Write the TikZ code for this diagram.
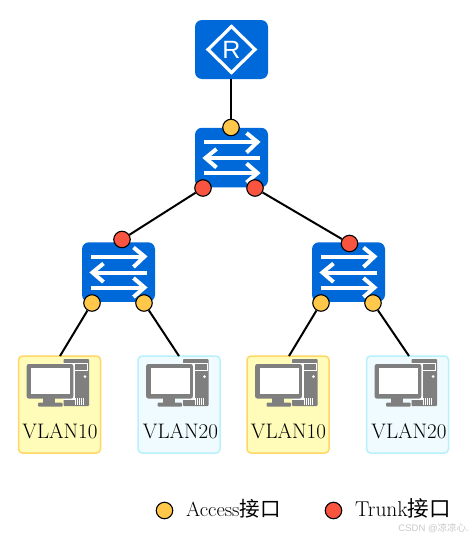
\documentclass[tikz,border=0pt]{standalone}
\usepackage{fontspec}
\newfontfamily\cjk{Noto Sans CJK SC}
\newfontfamily\arialish{Liberation Sans}
\definecolor{devblue}{HTML}{0069D9}
\definecolor{portyellow}{HTML}{FFC84A}
\definecolor{portred}{HTML}{F95440}
\definecolor{pcyf}{HTML}{FFFBB8}
\definecolor{pcyd}{HTML}{FFD766}
\definecolor{pcbf}{HTML}{EFFBFE}
\definecolor{pcbd}{HTML}{B8F0FB}
\definecolor{pcgray}{HTML}{7F7F7F}
\tikzset{
  x=1pt,y=-1pt,
  device/.style={fill=devblue,draw=none,rounded corners=7pt,minimum width=73pt,minimum height=59.5pt,inner sep=0pt},
  hostbox/.style={rounded corners=4pt,line width=1.5pt,minimum width=82pt,minimum height=97pt,inner sep=0pt},
  hosty/.style={hostbox,fill=pcyf,draw=pcyd},
  hostb/.style={hostbox,fill=pcbf,draw=pcbd},
  port/.style={circle,draw=black,line width=1.1pt,minimum size=16.5pt,inner sep=0pt},
  py/.style={port,fill=portyellow},
  pr/.style={port,fill=portred},
  link/.style={draw=black,line width=2pt},
  vlan/.style={font=\fontsize{21}{21}\selectfont,text=black,inner sep=0pt,anchor=base},
  legendtext/.style={font=\fontsize{20.5}{20.5}\selectfont,text=black,inner sep=0pt,anchor=base west},
  swicon/.pic={
    \begin{scope}[draw=white,line width=4pt,line cap=butt]
      \draw (-28,-15.5) -- (26,-15.5);
      \draw (15,-24.5) -- (26,-15.5) -- (15,-5);
      \draw (28,0.5) -- (-26,0.5);
      \draw (-15,-8.5) -- (-26,0.5) -- (-15,10);
      \draw (-28,15.5) -- (26,15.5);
      \draw (15,6) -- (26,15.5) -- (15,25);
    \end{scope}
  },
  pcicon/.pic={
    \fill[pcgray,rounded corners=0.8pt] (45.5,3) rectangle (71,50);
    \draw[white,line width=0.7pt] (52,7.5) rectangle (69.5,14.5);
    \fill[white] (67,20.5) circle (1.5);
    \foreach \vx in {57,59,61,63,65}
      \fill[white] (\vx,42) rectangle ++(1,7);
    \fill[white] (45,7) rectangle (57,44);
    \fill[pcgray,rounded corners=2pt] (8.7,8) rectangle (55.3,42.5);
    \fill[white] (13,11.7) rectangle (52,38.3);
    \fill[pcgray] (25,42) rectangle (37,47);
    \fill[pcgray,rounded corners=1pt] (20,46.7) rectangle (44.7,50.7);
  }
}
\begin{document}
\begin{tikzpicture}
\useasboundingbox (0,0) rectangle (473,538);
% devices
\node[device,minimum height=59pt] (router) at (231.5,49.5) {};
\node[device] (sw0) at (231.5,157.5) {};
\node[device] (sw1) at (118.5,272) {};
\node[device] (sw2) at (348.5,272) {};
% hosts
\node[hosty] (h1) at (59.5,404.5) {};
\node[hostb] (h2) at (179,404.5) {};
\node[hosty] (h3) at (288,404.5) {};
\node[hostb] (h4) at (407.5,404.5) {};
% router icon
\draw[white,line width=3.2pt,line join=miter] (231.5,26.5) -- (255,49.5) -- (231.5,72.5) -- (208,49.5) -- cycle;
\node[font=\arialish\fontsize{25}{25}\selectfont,text=white,inner sep=0pt] (rlabel) at (231.5,49.5) {R};
% switch icons
\pic at (sw0) {swicon};
\pic at (sw1) {swicon};
\pic at (sw2) {swicon};
% host icons
\pic at (18,356) {pcicon};
\pic at (137.5,356) {pcicon};
\pic at (246.5,356) {pcicon};
\pic at (366,356) {pcicon};
% host labels
\node[vlan] (l1) at (60,438.5) {VLAN10};
\node[vlan] (l2) at (180.5,438.5) {VLAN20};
\node[vlan] (l3) at (288.5,438.5) {VLAN10};
\node[vlan] (l4) at (409,438.5) {VLAN20};
% ports
\node[py] (p0) at (231,127.5) {};
\node[pr] (p1) at (203,188) {};
\node[pr] (p2) at (255,188) {};
\node[pr] (p3) at (122,239.5) {};
\node[pr] (p4) at (349.5,243.5) {};
\node[py] (p5) at (92,303) {};
\node[py] (p6) at (144,303) {};
\node[py] (p7) at (321,303) {};
\node[py] (p8) at (373,303) {};
% host attachment points
\coordinate (a1) at (60,356);
\coordinate (a2) at (179,356);
\coordinate (a3) at (289,356);
\coordinate (a4) at (409,356);
% links
\draw[link] (router.south -| p0) -- (p0);
\draw[link] (p1) -- (p3);
\draw[link] (p2) -- (p4);
\draw[link] (p5) -- (a1);
\draw[link] (p6) -- (a2);
\draw[link] (p7) -- (a3);
\draw[link] (p8) -- (a4);
% legend
\node[py] (ky) at (164.5,510.5) {};
\node[pr] (kr) at (333.5,510.5) {};
\node[legendtext] (ty) at (186,516.5) {Access{\cjk 接口}};
\node[legendtext,font=\fontsize{21.5}{21.5}\selectfont] (tr) at (355,516.5) {Trunk{\cjk 接口}};
% watermark
\node[font=\arialish\fontsize{9.5}{9.5}\selectfont,text=black!22,inner sep=0pt,anchor=base east] (wm) at (469,531) {CSDN @{\cjk 凉凉心}.};
\end{tikzpicture}
\end{document}
